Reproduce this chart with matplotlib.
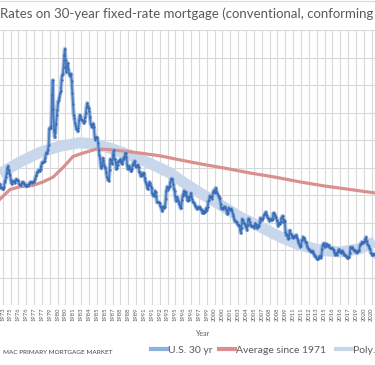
import matplotlib
matplotlib.use('Agg')
import matplotlib.pyplot as plt
from matplotlib.lines import Line2D
import numpy as np

plt.rcParams['font.family'] = ['Lato', 'DejaVu Sans']

# Freddie Mac PMMS 30-yr fixed, monthly values (first value = Apr 1971)
first_year, first_month = 1971, 4
us30 = [
    7.31, 7.43, 7.53, 7.60, 7.70, 7.69, 7.63, 7.55, 7.48,
    7.44, 7.32, 7.29, 7.29, 7.37, 7.37, 7.40, 7.40, 7.42, 7.44, 7.44, 7.45,
    7.44, 7.44, 7.46, 7.54, 7.65, 7.73, 8.05, 8.50, 8.82, 8.77, 8.58, 8.54,
    8.54, 8.46, 8.41, 8.58, 8.97, 9.09, 9.28, 9.59, 9.96, 10.1, 9.79, 9.62,
    9.43, 9.10, 8.89, 8.82, 8.99, 9.01, 8.91, 8.89, 9.05, 9.15, 9.11, 9.10,
    9.02, 8.81, 8.76, 8.73, 8.76, 8.85, 8.93, 8.94, 8.90, 8.82, 8.72, 8.63,
    8.72, 8.67, 8.69, 8.75, 8.83, 8.86, 8.94, 8.94, 8.90, 8.92, 8.92, 8.96,
    9.02, 9.15, 9.35, 9.44, 9.66, 9.70, 9.81, 9.81, 9.74, 9.86, 10.11, 10.35,
    10.39, 10.41, 10.43, 10.50, 10.69, 11.04, 11.09, 11.09, 11.30, 11.64, 12.83, 12.90,
    12.88, 13.04, 15.28, 16.35, 14.26, 12.71, 12.19, 12.56, 13.20, 13.79, 14.21, 14.79,
    14.90, 15.13, 15.40, 15.58, 16.40, 16.70, 16.83, 17.29, 18.16, 18.63, 17.83, 16.92,
    17.40, 17.60, 17.16, 16.89, 16.68, 16.70, 16.82, 16.27, 15.43, 14.61, 13.83, 13.62,
    13.25, 13.04, 12.80, 12.78, 12.63, 12.87, 13.42, 13.81, 13.73, 13.54, 13.44, 13.42,
    13.37, 13.23, 13.39, 13.65, 13.94, 14.42, 14.68, 14.47, 14.35, 14.13, 13.64, 13.18,
    13.08, 12.92, 13.17, 13.20, 12.91, 12.22, 12.03, 12.19, 12.19, 12.14, 11.78, 11.26,
    10.88, 10.71, 10.08, 9.94, 10.14, 10.68, 10.51, 10.20, 10.01, 9.97, 9.70, 9.31,
    9.20, 9.08, 9.04, 9.83, 10.60, 10.54, 10.28, 10.33, 10.89, 11.26, 10.65, 10.64,
    10.38, 9.89, 9.93, 10.20, 10.46, 10.46, 10.43, 10.60, 10.48, 10.30, 10.27, 10.61,
    10.73, 10.65, 11.03, 11.05, 10.77, 10.20, 9.88, 9.99, 10.13, 9.95, 9.77, 9.74,
    9.90, 10.20, 10.27, 10.37, 10.48, 10.16, 10.04, 10.10, 10.18, 10.18, 10.01, 9.67,
    9.64, 9.37, 9.50, 9.49, 9.47, 9.62, 9.58, 9.24, 9.01, 8.86, 8.71, 8.50,
    8.43, 8.76, 8.94, 8.85, 8.67, 8.51, 8.13, 7.98, 7.92, 8.09, 8.31, 8.22,
    7.91, 7.47, 7.47, 7.46, 7.46, 7.42, 7.21, 7.11, 6.92, 6.83, 7.16, 7.17,
    7.06, 7.15, 7.68, 8.32, 8.60, 8.40, 8.61, 8.51, 8.64, 8.93, 9.17, 9.20,
    9.15, 8.83, 8.46, 8.32, 7.96, 7.57, 7.61, 7.86, 7.64, 7.48, 7.38, 7.20,
    7.03, 7.08, 7.62, 7.93, 8.07, 8.32, 8.25, 8.00, 8.23, 7.92, 7.62, 7.60,
    7.82, 7.65, 7.90, 8.14, 7.94, 7.69, 7.50, 7.48, 7.43, 7.29, 7.21, 7.10,
    6.99, 7.04, 7.13, 7.14, 7.14, 7.00, 6.95, 6.92, 6.72, 6.71, 6.87, 6.72,
    6.79, 6.81, 7.04, 6.92, 7.15, 7.55, 7.63, 7.94, 7.82, 7.85, 7.74, 7.91,
    8.21, 8.33, 8.24, 8.15, 8.52, 8.29, 8.15, 8.03, 7.91, 7.80, 7.75, 7.38,
    7.03, 7.05, 6.95, 7.08, 7.15, 7.16, 7.13, 6.95, 6.82, 6.62, 6.66, 7.07,
    7.00, 6.89, 7.01, 6.99, 6.81, 6.65, 6.49, 6.29, 6.09, 6.11, 6.07, 6.05,
    5.92, 5.84, 5.75, 5.81, 5.48, 5.23, 5.63, 6.26, 6.15, 5.95, 5.93, 5.88,
    5.71, 5.64, 5.45, 5.83, 6.27, 6.29, 6.06, 5.87, 5.75, 5.72, 5.73, 5.75,
    5.71, 5.63, 5.93, 5.86, 5.72, 5.58, 5.70, 5.82, 5.77, 6.07, 6.33, 6.27,
    6.15, 6.25, 6.32, 6.51, 6.60, 6.68, 6.76, 6.52, 6.40, 6.36, 6.24, 6.14,
    6.22, 6.29, 6.16, 6.18, 6.26, 6.66, 6.70, 6.57, 6.38, 6.38, 6.21, 6.10,
    5.76, 5.92, 5.97, 5.92, 6.04, 6.32, 6.43, 6.48, 6.04, 6.20, 6.09, 5.33,
    5.06, 5.13, 5.00, 4.81, 4.86, 5.42, 5.22, 5.19, 5.06, 4.95, 4.88, 4.93,
    5.03, 4.99, 4.97, 5.10, 4.89, 4.74, 4.56, 4.43, 4.35, 4.23, 4.30, 4.71,
    4.76, 4.95, 4.84, 4.84, 4.64, 4.51, 4.55, 4.27, 4.11, 4.07, 3.99, 3.96,
    3.92, 3.89, 3.95, 3.91, 3.80, 3.68, 3.55, 3.60, 3.50, 3.38, 3.35, 3.35,
    3.41, 3.53, 3.57, 3.45, 3.54, 4.07, 4.37, 4.46, 4.49, 4.19, 4.26, 4.46,
    4.43, 4.30, 4.34, 4.34, 4.19, 4.16, 4.13, 4.12, 4.16, 4.04, 4.00, 3.86,
    3.67, 3.71, 3.77, 3.67, 3.84, 3.98, 4.05, 3.91, 3.89, 3.80, 3.94, 3.96,
    3.87, 3.66, 3.69, 3.61, 3.60, 3.57, 3.44, 3.44, 3.46, 3.47, 3.77, 4.20,
    4.15, 4.17, 4.20, 4.05, 4.01, 3.90, 3.97, 3.88, 3.81, 3.90, 3.92, 3.95,
    4.03, 4.33, 4.44, 4.47, 4.59, 4.57, 4.53, 4.55, 4.63, 4.83, 4.94, 4.64,
    4.46, 4.37, 4.27, 4.14, 4.07, 3.80, 3.77, 3.62, 3.61, 3.69, 3.70, 3.72,
    3.62, 3.47, 3.45,
]

# average since 1971 (read at points along the red line)
avg_years = [1973.80, 1975.03, 1976.26, 1977.86, 1979.10, 1980.33, 1981.56, 1982.79,
             1984.02, 1985.75, 1987.35, 1988.95, 1991.04, 1993.50, 1995.97, 1999.05,
             2001.51, 2004.59, 2007.67, 2010.75, 2013.82, 2016.90, 2019.98]
avg_vals = [7.7, 8.4, 8.6, 8.7, 8.95, 9.3, 10.0, 10.8,
            11.05, 11.35, 11.3, 11.2, 11.05, 10.85, 10.55, 10.2,
            9.95, 9.6, 9.3, 8.95, 8.65, 8.4, 8.15]

# polynomial trendline
poly_years = [1973.80, 1976.26, 1978.73, 1981.19, 1983.65, 1985.49, 1987.35, 1989.81,
              1992.27, 1994.74, 1996.58, 1998.43, 2000.89, 2003.36, 2005.82, 2008.28,
              2010.75, 2013.21, 2015.67, 2018.13, 2019.98]
poly_vals = [9.55, 10.4, 11.1, 11.55, 11.8, 11.7, 11.4, 10.9,
             10.3, 9.6, 8.85, 8.15, 7.3, 6.4, 5.7, 4.95,
             4.35, 4.0, 3.85, 4.1, 4.6]

tick_labels = ['1973', '1975', '1976', '1976', '1977', '1977', '1979', '1980', '1980', '1981',
               '1983', '1984', '1985', '1985', '1987', '1988', '1988', '1989', '1991', '1991',
               '1992', '1993', '1995', '1996', '1996', '1997', '1999', '2000', '2000', '2001',
               '2003', '2004', '2005', '2007', '2008', '2008', '2009', '2011', '2011', '2012',
               '2013', '2015', '2016', '2016', '2017', '2019', '2020', '2020']

series_names = ['U.S. 30 yr', 'Average since 1971', 'Poly. (U.S. 30 yr)']

# month index -> decimal year
k = np.arange(len(us30))
us30_x = first_year + (first_month - 1 + k + 0.5) / 12.0

grey = '#595959'
grid_c = '#d9d9d9'
c_us, c_avg, c_poly = '#8db0dc', '#d9908e', '#c8d7ec'

fig = plt.figure(figsize=(3.75, 3.66), dpi=100)
H = 366.0
ax = fig.add_axes([0, 1 - 305 / H, 1, (305 - 30) / H])

ax.plot(poly_years, poly_vals, color=c_poly, lw=8, solid_capstyle='butt', zorder=2)
ax.plot(avg_years, avg_vals, color=c_avg, lw=2.3, zorder=3)
ax.plot(us30_x, us30, color='#93b3dd', lw=3.0, alpha=0.8, zorder=4)
ax.plot(us30_x, us30, color='#4a7bbf', lw=1.3, marker='o', ms=1.6, mew=0,
        mfc='#3a6bb3', zorder=5)

ax.set_xlim(1973.8, 2019.98)
ax.set_ylim(0, 20)
ax.set_yticks(np.arange(0, 21, 2))
ax.set_yticklabels([])
tick_x = 1974.13 + 0.9667 * np.arange(len(tick_labels))
ax.set_xticks(tick_x)
ax.set_xticklabels(tick_labels, rotation=90, fontsize=4.2, color=grey)
ax.tick_params(length=0, pad=2)
ax.grid(True, color=grid_c, lw=0.8)
ax.set_axisbelow(True)
for s in ax.spines.values():
    s.set_visible(False)

fig.text(0.0, 1 - 14 / H, 'Rates on 30-year fixed-rate mortgage (conventional, conforming',
         fontsize=9.5, color=grey, ha='left', va='center')
fig.text(203 / 375, 1 - 334 / H, 'Year', fontsize=5, color=grey, ha='center', va='center')
fig.text(3 / 375, 1 - 353 / H, 'MAC PRIMARY MORTGAGE MARKET', fontsize=4.6, color='#404040',
         ha='left', va='center')

# legend row: one entry per legend so each starts where the reference has it
leg_x = [151, 219, 336]
for name, col, x0 in zip(series_names, [c_us, c_avg, c_poly], leg_x):
    leg = fig.legend([Line2D([], [], color=col, lw=3)], [name],
                     loc='center left', bbox_to_anchor=(x0 / 375, 1 - 350 / H),
                     frameon=False, fontsize=7.5, labelcolor=grey, handlelength=1.5,
                     handletextpad=0.15, borderpad=0, borderaxespad=0)

# chart border (cropped)
fig.add_artist(Line2D([0, 1], [1 - 1 / H, 1 - 1 / H], color=grid_c, lw=0.8))
fig.add_artist(Line2D([0, 1], [1 / H, 1 / H], color=grid_c, lw=0.8))

fig.savefig('out.png', dpi=100)
